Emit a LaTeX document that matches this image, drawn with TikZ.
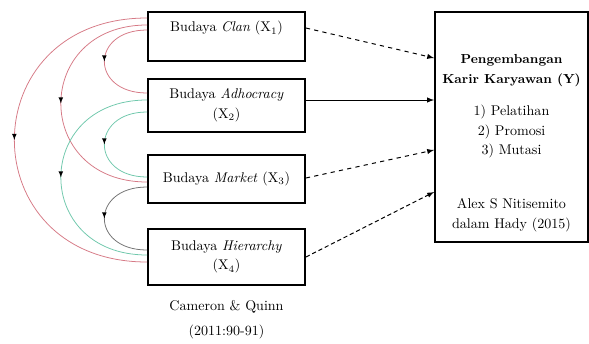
\documentclass[tikz,border=0pt]{standalone}
\usepackage{tikz}
\usetikzlibrary{calc,arrows,decorations.markings}
\definecolor{clanred}{RGB}{214,122,134}
\definecolor{adhgreen}{RGB}{112,200,172}
\definecolor{mktgray}{RGB}{115,115,115}

\begin{document}
\begin{tikzpicture}[x=0.025cm,y=-0.025cm,
    every node/.style={font=\fontsize{10}{14}\selectfont},
    budbox/.style={draw,line width=1.3pt,minimum width=157*0.025cm,align=center,inner sep=0pt},
    midarrow/.style={postaction={decorate,decoration={markings,mark=at position 0.5 with {\arrow[color=black]{latex}}}}},
    curvered/.style={draw=clanred,line width=0.55pt,midarrow},
    curvegreen/.style={draw=adhgreen,line width=0.55pt,midarrow},
    curvegray/.style={draw=mktgray,line width=0.55pt,midarrow}]
              \useasboundingbox (0,0) rectangle (589,343);
              \node[budbox,minimum height=49*0.025cm](c1)at(226.5,36.5){Budaya \textit{Clan} (X\textsubscript{1})\\\mbox{}};
              \node[budbox,minimum height=53*0.025cm](c2)at(226.5,105.5){Budaya \textit{Adhocracy}\\(X\textsubscript{2})};
              \node[budbox,minimum height=48*0.025cm](c3)at(226.5,179){Budaya \textit{Market} (X\textsubscript{3})};
              \node[budbox,minimum height=56*0.025cm](c4)at(226.5,257){Budaya \textit{Hierarchy}\\(X\textsubscript{4})};
              \node[draw,line width=1.3pt,minimum width=153*0.025cm,minimum height=230*0.025cm](y)at(511.5,127){};
              \node[align=center](yt)at(511.5,143){\textbf{\fontsize{9.3}{14}\selectfont Pengembangan}\\\textbf{\fontsize{9.3}{14}\selectfont Karir Karyawan (Y)}\\[9pt]1) Pelatihan\\2) Promosi\\3) Mutasi\\[24pt]Alex S Nitisemito\\dalam Hady (2015)};
              \node[align=center,font=\fontsize{10}{18}\selectfont](src)at(226.5,320){Cameron \& Quinn\\(2011:90-91)};
              \draw[-latex,line width=0.7pt,dashed]($(c1.east)+(0,-8.5)$)--($(y.west)+(0,-69)$);
              \draw[-latex,line width=0.7pt]($(c2.east)+(0,-5.5)$)--($(y.west)+(0,-27)$);
              \draw[-latex,line width=0.7pt,dashed]($(c3.east)+(0,-1)$)--($(y.west)+(0,23)$);
              \draw[-latex,line width=0.7pt,densely dashed]($(c4.east)+(0,0)$)--($(y.west)+(0,65)$);
              \draw[curvered]($(c1.west)+(0,-6.5)$) .. controls +(-57,0) and +(-57,0) .. ($(c2.west)+(0,-12.5)$);
              \draw[curvered]($(c1.west)+(0,-11.5)$) .. controls +(-115,0) and +(-115,0) .. ($(c3.west)+(0,3)$);
              \draw[curvered]($(c1.west)+(0,-18.5)$) .. controls +(-177,0) and +(-177,0) .. ($(c4.west)+(0,5)$);
              \draw[curvegreen]($(c2.west)+(0,-5.5)$) .. controls +(-115,0) and +(-115,0) .. ($(c4.west)+(0,-2)$);
              \draw[curvegreen]($(c2.west)+(0,6.5)$) .. controls +(-57,0) and +(-57,0) .. ($(c3.west)+(0,-2)$);
              \draw[curvegray]($(c3.west)+(0,8)$) .. controls +(-57,0) and +(-57,0) .. ($(c4.west)+(0,-7)$);
            \end{tikzpicture}
\end{document}
